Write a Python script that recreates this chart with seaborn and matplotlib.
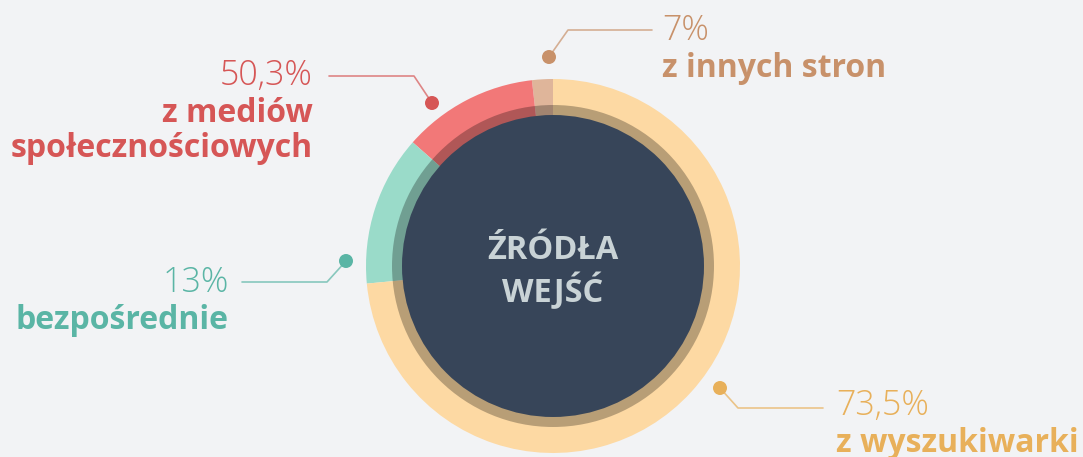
import matplotlib
matplotlib.use("Agg")
import matplotlib.pyplot as plt
from matplotlib.patches import Circle
import seaborn as sns

# ── data ──────────────────────────────────────────────
sources   = [["z innych stron"], ["z mediów", "społecznościowych"], ["bezpośrednie"], ["z wyszukiwarki"]]
labels    = ["7%", "50,3%", "13%", "73,5%"]          # printed labels
shares    = [1.8, 11.7, 13.0, 73.5]                   # arc sizes
ring_cols = ["#dfb59a", "#f27878", "#9adbc9", "#fdd9a3"]
text_cols = ["#c8916a", "#d65656", "#5ab5a5", "#e8b05a"]
title     = ["ŹRÓDŁA", "WEJŚĆ"]

BG = "#f2f3f5"
sns.set_theme(style="white", rc={"figure.facecolor": BG, "axes.facecolor": BG})
plt.rcParams["font.family"] = ["Open Sans", "DejaVu Sans"]

W, H = 1083, 457
fig = plt.figure(figsize=(W / 100, H / 100), dpi=100)
ax = fig.add_axes([0, 0, 1, 1])

cx, cy, R = 553, H - 266, 187
ax.pie(shares, colors=sns.color_palette(ring_cols), startangle=90, counterclock=True,
       radius=R, center=(cx, cy), wedgeprops={"width": 42, "edgecolor": "none"},
       frame=True)
ax.set_xlim(0, W); ax.set_ylim(0, H)
ax.set_aspect("equal"); ax.axis("off")
ax.add_patch(Circle((cx, cy), 161, color="black", alpha=0.27, lw=0, zorder=3))
ax.add_patch(Circle((cx, cy), 151, color="#374559", lw=0, zorder=4))
for i, line in enumerate(title):
    ax.text(cx, H - 259 - 43 * i, line, ha="center", va="baseline", fontsize=23.5,
            fontweight="bold", color="#c9d3d6", zorder=5)

# leader lines: dot, elbow, end ; text anchor
leaders = [
    dict(dot=(549, 57), elbow=(568, 30), end=(652, 30), tx=662, ty=40, ha="left"),
    dict(dot=(432, 103), elbow=(414, 76), end=(329, 76), tx=313, ty=85, ha="right"),
    dict(dot=(346, 261), elbow=(327, 282), end=(242, 282), tx=229, ty=292, ha="right"),
    dict(dot=(720, 388), elbow=(738, 408), end=(823, 408), tx=836, ty=415, ha="left"),
]
for src, lab, col, ld in zip(sources, labels, text_cols, leaders):
    xs = [ld["dot"][0], ld["elbow"][0], ld["end"][0]]
    ys = [H - ld["dot"][1], H - ld["elbow"][1], H - ld["end"][1]]
    ax.plot(xs, ys, color=col, lw=1.2, alpha=0.7, zorder=6)
    ax.add_patch(Circle((xs[0], ys[0]), 7, color=col, lw=0, zorder=7))
    ax.text(ld["tx"], H - ld["ty"], lab, ha=ld["ha"], va="baseline",
            fontsize=24.5, fontweight="light", color=col)
    for j, line in enumerate(src):
        ax.text(ld["tx"], H - ld["ty"] - 37 - 35 * j, line, ha=ld["ha"], va="baseline",
                fontsize=23, fontweight="bold", color=col)

fig.savefig("out.png", dpi=100, facecolor=BG)
